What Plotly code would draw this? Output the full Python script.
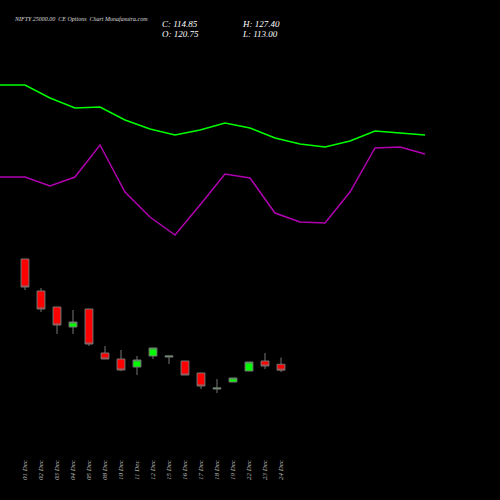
import plotly.graph_objects as go

dates = ["01 Dec", "02 Dec", "03 Dec", "04 Dec", "05 Dec", "08 Dec", "10 Dec", "11 Dec", "12 Dec",
         "15 Dec", "16 Dec", "17 Dec", "18 Dec", "19 Dec", "22 Dec", "23 Dec", "24 Dec"]
opens = [226, 194, 178, 158, 176, 132, 126, 118, 129, 128, 124, 112, 96, 103, 114, 124, 120.75]
closes = [198, 176, 160, 163, 141, 126, 115, 125, 137, 129, 110, 99, 97, 107, 123, 119, 114.85]
highs = [226, 197, 178, 175, 176, 139, 135, 129, 137, 129, 124, 112, 106, 107, 123, 132, 127.4]
lows = [195, 173, 151, 151, 139, 126, 114, 110, 126, 121, 110, 96, 92, 103, 114, 116, 113]

green_line = [400, 400, 387, 377, 378, 365, 356, 350, 355, 362, 357, 347, 341, 338, 344, 354, 352, 350]
purple_line = [308, 308, 299, 308, 340, 293, 268, 250, 280, 311, 307, 272, 263, 262, 293, 337, 338, 331]

idx = list(range(len(dates)))

fig = go.Figure()

fig.add_trace(go.Scatter(x=list(range(len(green_line))), y=green_line, mode="lines",
                         line=dict(color="#00ff00", width=1.5), xaxis="x2"))
fig.add_trace(go.Scatter(x=list(range(len(purple_line))), y=purple_line, mode="lines",
                         line=dict(color="#b000b0", width=1.5), xaxis="x2"))

fig.add_trace(go.Candlestick(
    x=idx, open=opens, high=highs, low=lows, close=closes,
    increasing=dict(line=dict(color="#777777", width=1), fillcolor="#00ff00"),
    decreasing=dict(line=dict(color="#777777", width=1), fillcolor="#ff0000"),
    whiskerwidth=0,
))

# date labels
for i, d in zip(idx, dates):
    fig.add_annotation(x=i, y=30 / 500, xref="x", yref="paper", yanchor="middle",
                       text="<i>" + d + "</i>", textangle=-90,
                       showarrow=False, font=dict(family="Liberation Serif", size=7, color="#bbbbbb"))

serif = dict(family="Liberation Serif", color="#ffffff")
fig.add_annotation(x=12 / 500, y=1 - 14 / 500, xref="paper", yref="paper", xanchor="left",
                   text="<i>NIFTY 25000.00  CE Options  Chart Munafasutra.com</i>",
                   showarrow=False, font=dict(size=6, family="Liberation Serif", color="#dddddd"))
for tx, xp, yp in [("C: 114.85", 160, 24), ("O: 120.75", 160, 34),
                   ("H: 127.40", 240, 24), ("L: 113.00", 240, 34)]:
    fig.add_annotation(x=xp / 500, y=1 - yp / 500, xref="paper", yref="paper", xanchor="left",
                       yanchor="middle", text="<i>" + tx + "</i>", showarrow=False,
                       font=dict(size=9, **serif))

fig.update_layout(
    width=500, height=500,
    margin=dict(l=0, r=0, t=0, b=0),
    paper_bgcolor="#000000", plot_bgcolor="#000000",
    showlegend=False,
    xaxis=dict(range=[-25 / 16, 475 / 16], visible=False, rangeslider=dict(visible=False)),
    xaxis2=dict(range=[0, 20], visible=False, overlaying="x"),
    yaxis=dict(range=[-15, 485], visible=False),
)

fig.write_html("out.html", config={"displayModeBar": False},
               post_script="document.body.style.margin='0';document.body.style.overflow='hidden';document.body.style.background='#000';")
